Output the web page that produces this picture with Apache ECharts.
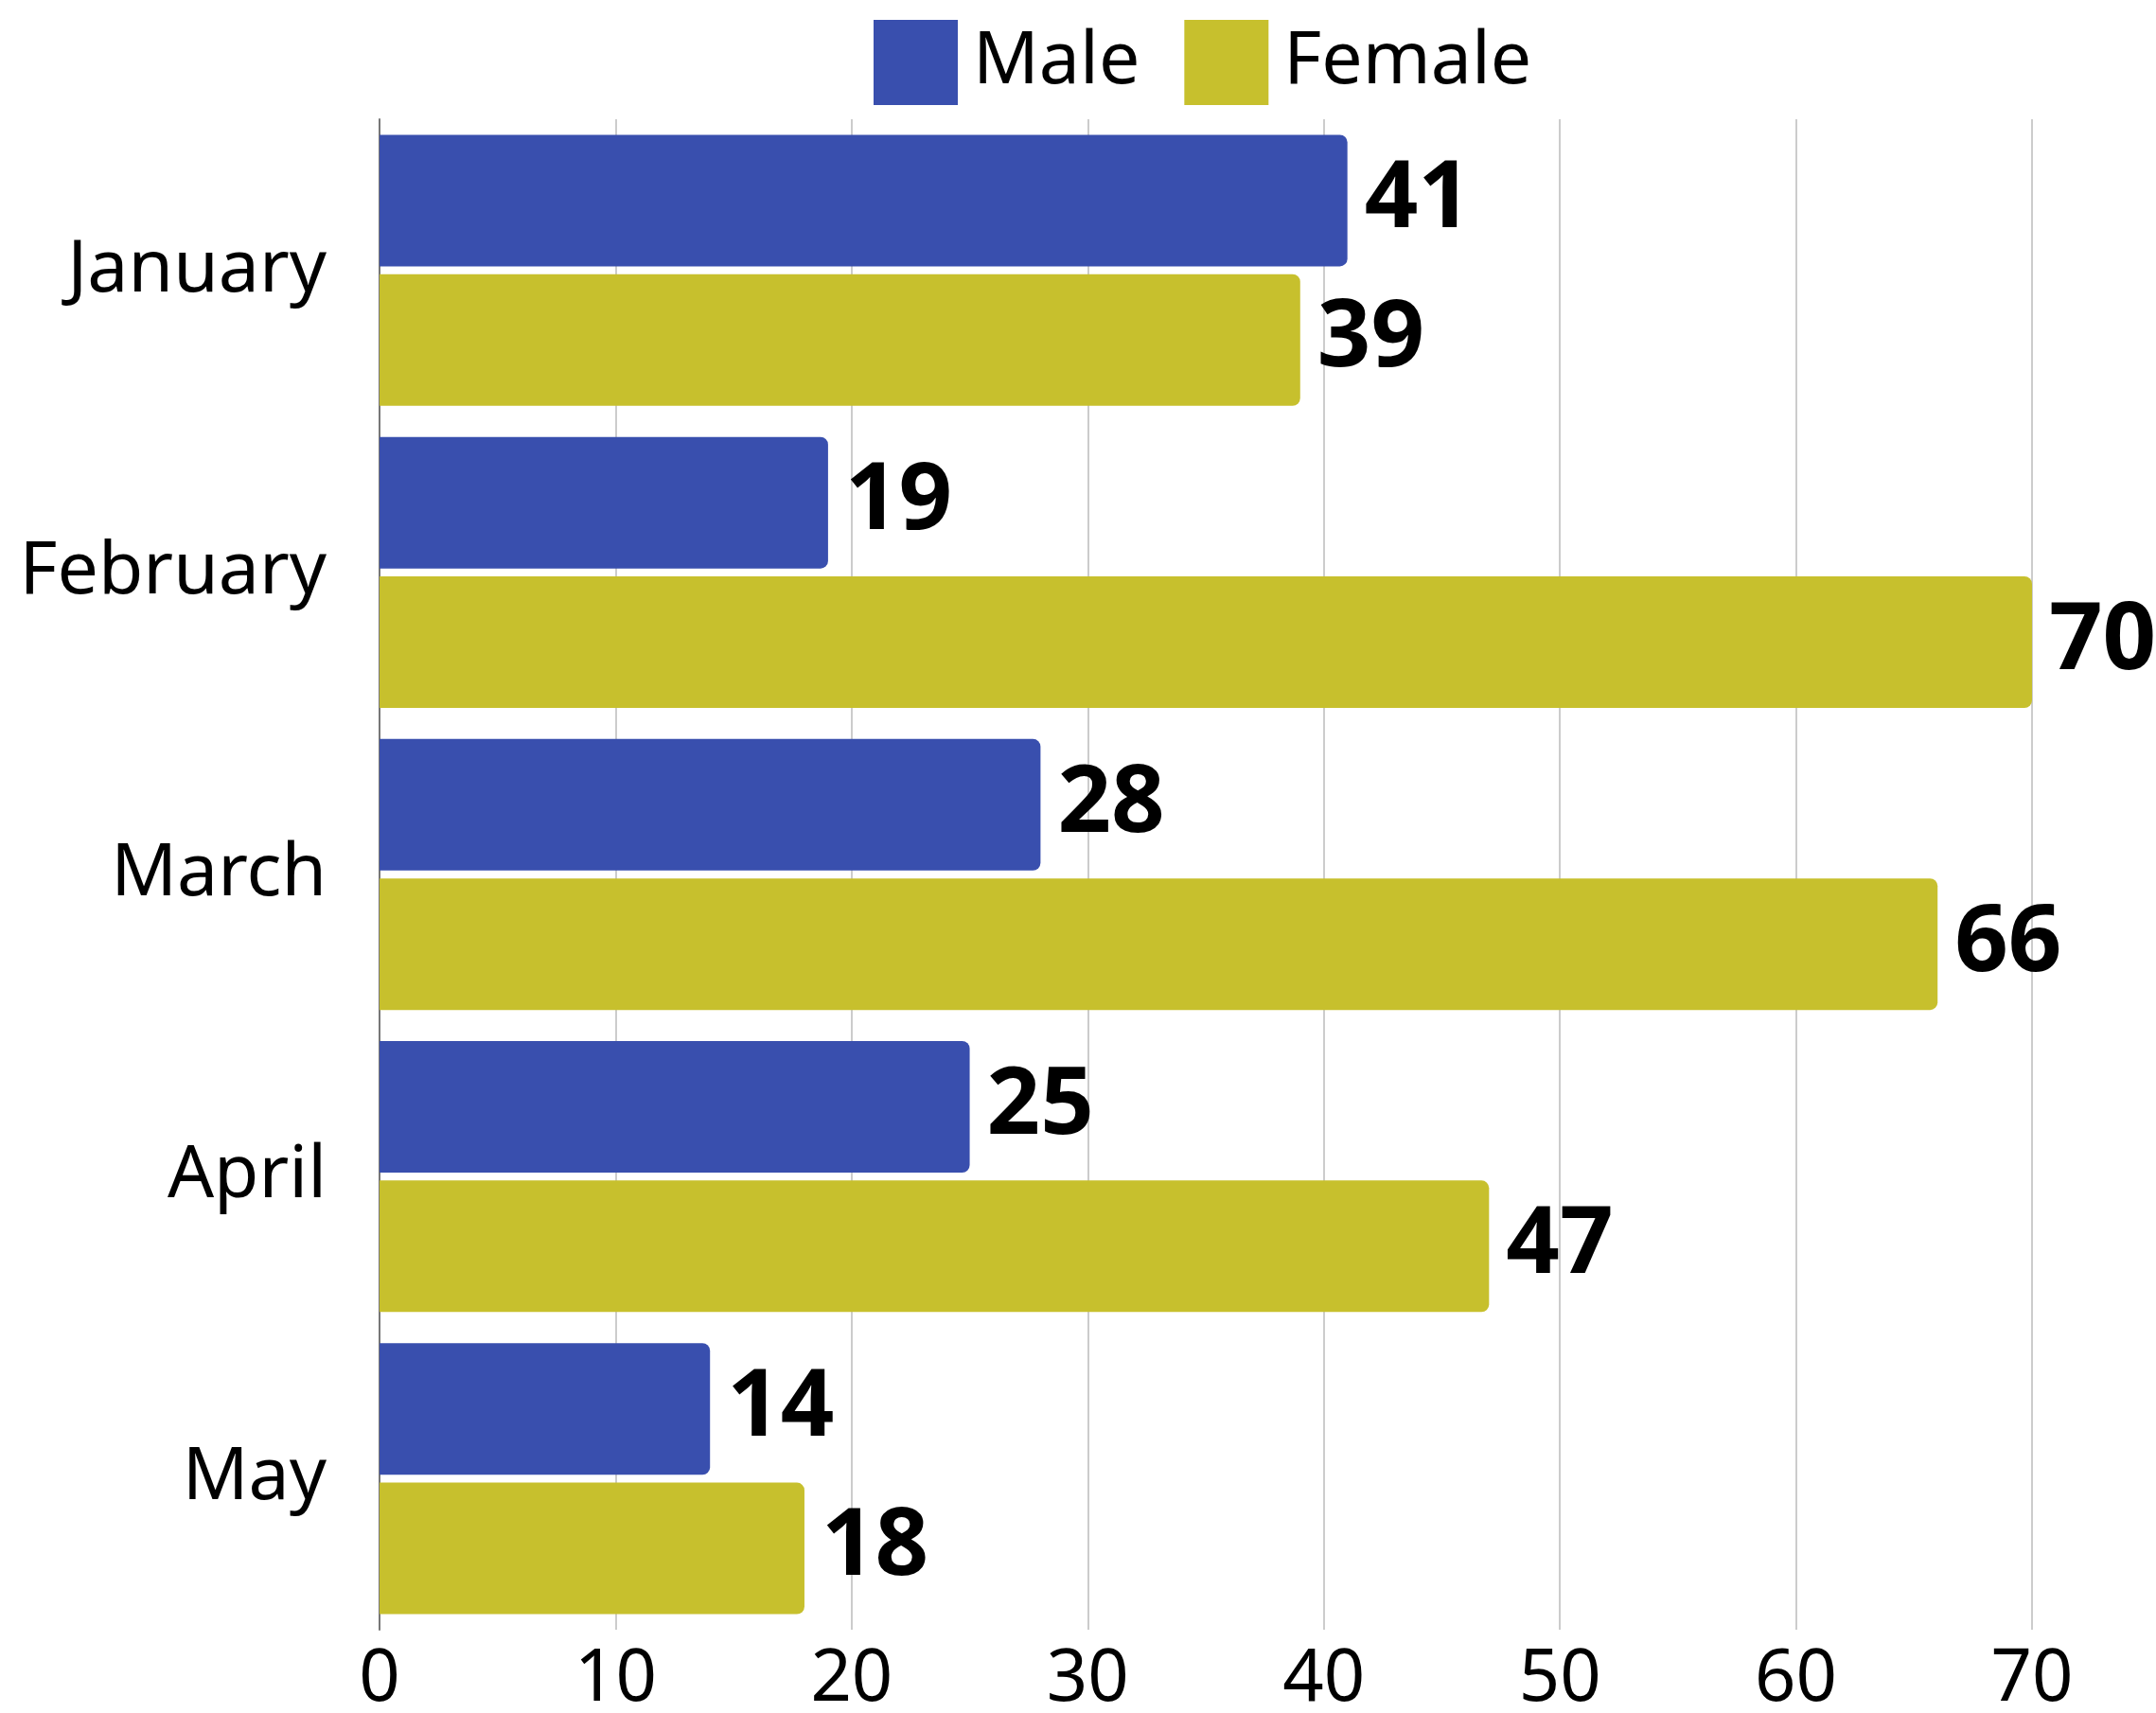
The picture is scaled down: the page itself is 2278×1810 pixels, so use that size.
<!DOCTYPE html>
<html>
<head>
<meta charset="utf-8">
<script src="https://cdn.jsdelivr.net/npm/echarts@6/dist/echarts.min.js"></script>
<style>
  html, body { margin: 0; padding: 0; background: #fff; }
  #chart { width: 2278px; height: 1810px; }
</style>
</head>
<body>
<div id="chart"></div>
<script>
// months down the y axis, top to bottom
const months = ['January', 'February', 'March', 'April', 'May'];
const maleValues = [41, 19, 28, 25, 14];
const femaleValues = [39, 70, 66, 47, 18];
const xTicks = [0, 10, 20, 30, 40, 50, 60, 70];

const chart = echarts.init(document.getElementById('chart'));

const labelStyle = {
  show: true,
  position: 'right',
  distance: 18,
  color: '#000',
  fontFamily: 'Open Sans',
  fontWeight: 'bold',
  fontSize: 99
};

const option = {
  animation: false,
  backgroundColor: '#fff',
  legend: {
    top: 16,
    left: 918,
    itemWidth: 89,
    itemHeight: 90,
    itemGap: 47,
    icon: 'rect',
    textStyle: { fontFamily: 'Noto Sans', fontSize: 77, color: '#000', padding: [0, 0, 0, 11] },
    data: ['Male', 'Female']
  },
  grid: {
    left: 401,
    right: 131,
    top: 126,
    height: 1596,
    containLabel: false,
    outerBoundsMode: 'none'
  },
  xAxis: {
    type: 'value',
    min: xTicks[0],
    max: xTicks[xTicks.length - 1],
    interval: 10,
    axisLine: { show: false },
    axisTick: { show: false },
    splitLine: { show: true, lineStyle: { color: '#cccccc', width: 2 } },
    axisLabel: {
      margin: 15,
      color: '#000',
      fontFamily: 'Noto Sans',
      fontSize: 76,
      showMinLabel: true,
      showMaxLabel: true
    }
  },
  yAxis: {
    type: 'category',
    data: months,
    inverse: true,
    axisTick: { show: false },
    axisLine: { show: true, lineStyle: { color: '#777777', width: 2 } },
    axisLabel: {
      margin: 56,
      color: '#000',
      fontFamily: 'Noto Sans',
      fontSize: 77
    }
  },
  series: [
    {
      name: 'Male',
      type: 'bar',
      data: maleValues,
      barWidth: 139,
      barGap: '6%',
      itemStyle: { color: '#394FAE', borderRadius: [0, 8, 8, 0] },
      label: labelStyle
    },
    {
      name: 'Female',
      type: 'bar',
      data: femaleValues,
      barWidth: 139,
      barGap: '6%',
      itemStyle: { color: '#C7C02D', borderRadius: [0, 8, 8, 0] },
      label: labelStyle
    }
  ]
};

chart.setOption(option);
</script>
</body>
</html>
